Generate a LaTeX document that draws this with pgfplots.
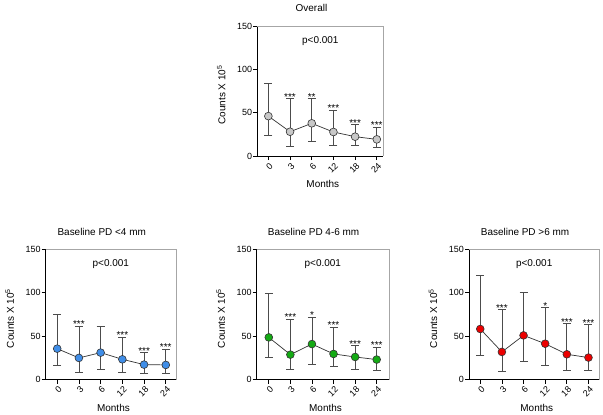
\documentclass[border=0pt]{standalone}
\usepackage{fontspec}
\setmainfont{Liberation Sans}
\usepackage{pgfplots}
\usepackage{pgfplotstable}
\pgfplotsset{compat=1.18}

\definecolor{cgray}{RGB}{200,200,200}
\definecolor{cblue}{RGB}{64,142,232}
\definecolor{cgreen}{RGB}{20,170,20}
\definecolor{cred}{RGB}{236,0,0}

% x index, mean, low, high
\pgfplotstableread{
x y lo hi
0 46.0 24.0 83.8
1 28.0 11.5 66.0
2 37.7 17.0 66.0
3 27.7 12.7 52.7
4 22.3 12.3 36.0
5 19.2  9.6 33.0
}\overall
\pgfplotstableread{
x y lo hi
0 35.6 16.8 75.0
1 24.9  8.0 61.6
2 31.0 11.9 61.6
3 23.3  8.4 48.6
4 17.2  7.3 31.0
5 16.8  7.3 34.8
}\pdlow
\pgfplotstableread{
x y lo hi
0 48.6 25.3 99.5
1 28.7 11.5 69.6
2 40.9 18.0 71.9
3 29.5 14.9 60.5
4 26.0 12.2 39.0
5 23.0 11.1 37.5
}\pdmid
\pgfplotstableread{
x y lo hi
0 58.3 28.4 120.4
1 31.8  9.2  80.4
2 50.9 21.4 100.0
3 41.3 16.5  83.0
4 29.1 10.0  64.3
5 25.3 10.0  63.2
}\pdhigh

\pgfplotsset{
  every axis title/.style={at={(axis description cs:0.43,1)}, anchor=base, yshift=14.5bp, font=\fontsize{10}{11}\selectfont},
  panel/.style={
    scale only axis,
    height=130bp,
    anchor=south west,
    ymin=0, ymax=150,
    ytick={0,50,100,150},
    xtick={0,1,2,3,4,5},
    xticklabels={0,3,6,12,18,24},
    axis x line*=bottom,
    axis y line*=left,
    axis line style={-, black, line width=0.8bp},
    tick style={black, line width=0.8bp},
    tick align=outside,
    major tick length=4bp,
    /pgf/number format/assume math mode=true,
    ticklabel style={font=\fontsize{9}{10}\selectfont},
    yticklabel style={inner sep=1bp},
    xticklabel style={rotate=45, anchor=north east, inner sep=1bp, yshift=-1bp},
    xlabel={Months},
    ylabel={Counts X 10\textsuperscript{5}},
    label style={font=\fontsize{10}{11}\selectfont},
    xlabel style={at={([yshift=-28bp]axis description cs:0.52,0)}, anchor=center},
    ylabel style={at={([xshift=-36bp]axis description cs:0,0.47)}, anchor=center},
    clip=false,
  },
  series/.style={
    black!80, line width=0.7bp, mark=*, mark size=3.9bp,
    mark options={fill=#1, draw=black!80, line width=0.6bp},
    error bars/.cd, y dir=both, y explicit,
    error bar style={black!70, line width=0.7bp},
    error mark options={rotate=90, mark size=4bp, black!70, line width=0.7bp},
  },
  stars/.style={
    draw=none, mark=none, nodes near coords,
    point meta=explicit symbolic,
    nodes near coords style={anchor=base, yshift=-1.5bp, inner sep=0pt, font=\fontsize{10}{10}\selectfont, black},
  },
}

\newcommand{\frametop}{\draw[gray!70, line width=0.8bp] (rel axis cs:0,1) -- (rel axis cs:1,1) -- (rel axis cs:1,0);}
\newcommand{\pval}{\node[anchor=base, font=\fontsize{10}{11}\selectfont] at (axis description cs:0.5,0.869) {p<0.001};}

\begin{document}
\begin{tikzpicture}
\useasboundingbox (0,0) rectangle (603bp,-415bp);

% Overall
\begin{axis}[panel, at={(257.3bp,-156bp)}, width=126bp, xmin=-0.51, xmax=5.3, title={Overall}]
\addplot[series=cgray] table[x=x, y=y, y error plus expr=\thisrow{hi}-\thisrow{y}, y error minus expr=\thisrow{y}-\thisrow{lo}] {\overall};
\addplot[stars] table[x=x, y=y, meta=s] {
x y s
1 66.0 ***
2 66.0 **
3 52.7 ***
4 36.0 ***
5 33.0 ***
};
\frametop
\pval
\end{axis}

% Baseline PD <4 mm
\begin{axis}[panel, at={(45.7bp,-379.5bp)}, width=130.3bp, xmin=-0.53, xmax=5.47, title={Baseline PD <4 mm}]
\addplot[series=cblue] table[x=x, y=y, y error plus expr=\thisrow{hi}-\thisrow{y}, y error minus expr=\thisrow{y}-\thisrow{lo}] {\pdlow};
\addplot[stars] table[x=x, y=y, meta=s] {
x y s
1 61.6 ***
3 48.6 ***
4 31.0 ***
5 34.8 ***
};
\frametop
\pval
\end{axis}

% Baseline PD 4-6 mm
\begin{axis}[panel, at={(256.7bp,-379.5bp)}, width=132.3bp, xmin=-0.56, xmax=5.57, title={Baseline PD 4-6 mm}]
\addplot[series=cgreen] table[x=x, y=y, y error plus expr=\thisrow{hi}-\thisrow{y}, y error minus expr=\thisrow{y}-\thisrow{lo}] {\pdmid};
\addplot[stars] table[x=x, y=y, meta=s] {
x y s
1 69.6 ***
2 71.9 *
3 60.5 ***
4 39.0 ***
5 37.5 ***
};
\frametop
\pval
\end{axis}

% Baseline PD >6 mm
\begin{axis}[panel, at={(469bp,-379.5bp)}, width=130.3bp, xmin=-0.52, xmax=5.5, title={Baseline PD >6 mm}]
\addplot[series=cred] table[x=x, y=y, y error plus expr=\thisrow{hi}-\thisrow{y}, y error minus expr=\thisrow{y}-\thisrow{lo}] {\pdhigh};
\addplot[stars] table[x=x, y=y, meta=s] {
x y s
1 80.4 ***
3 83.0 *
4 64.3 ***
5 63.2 ***
};
\frametop
\pval
\end{axis}
\end{tikzpicture}
\end{document}
